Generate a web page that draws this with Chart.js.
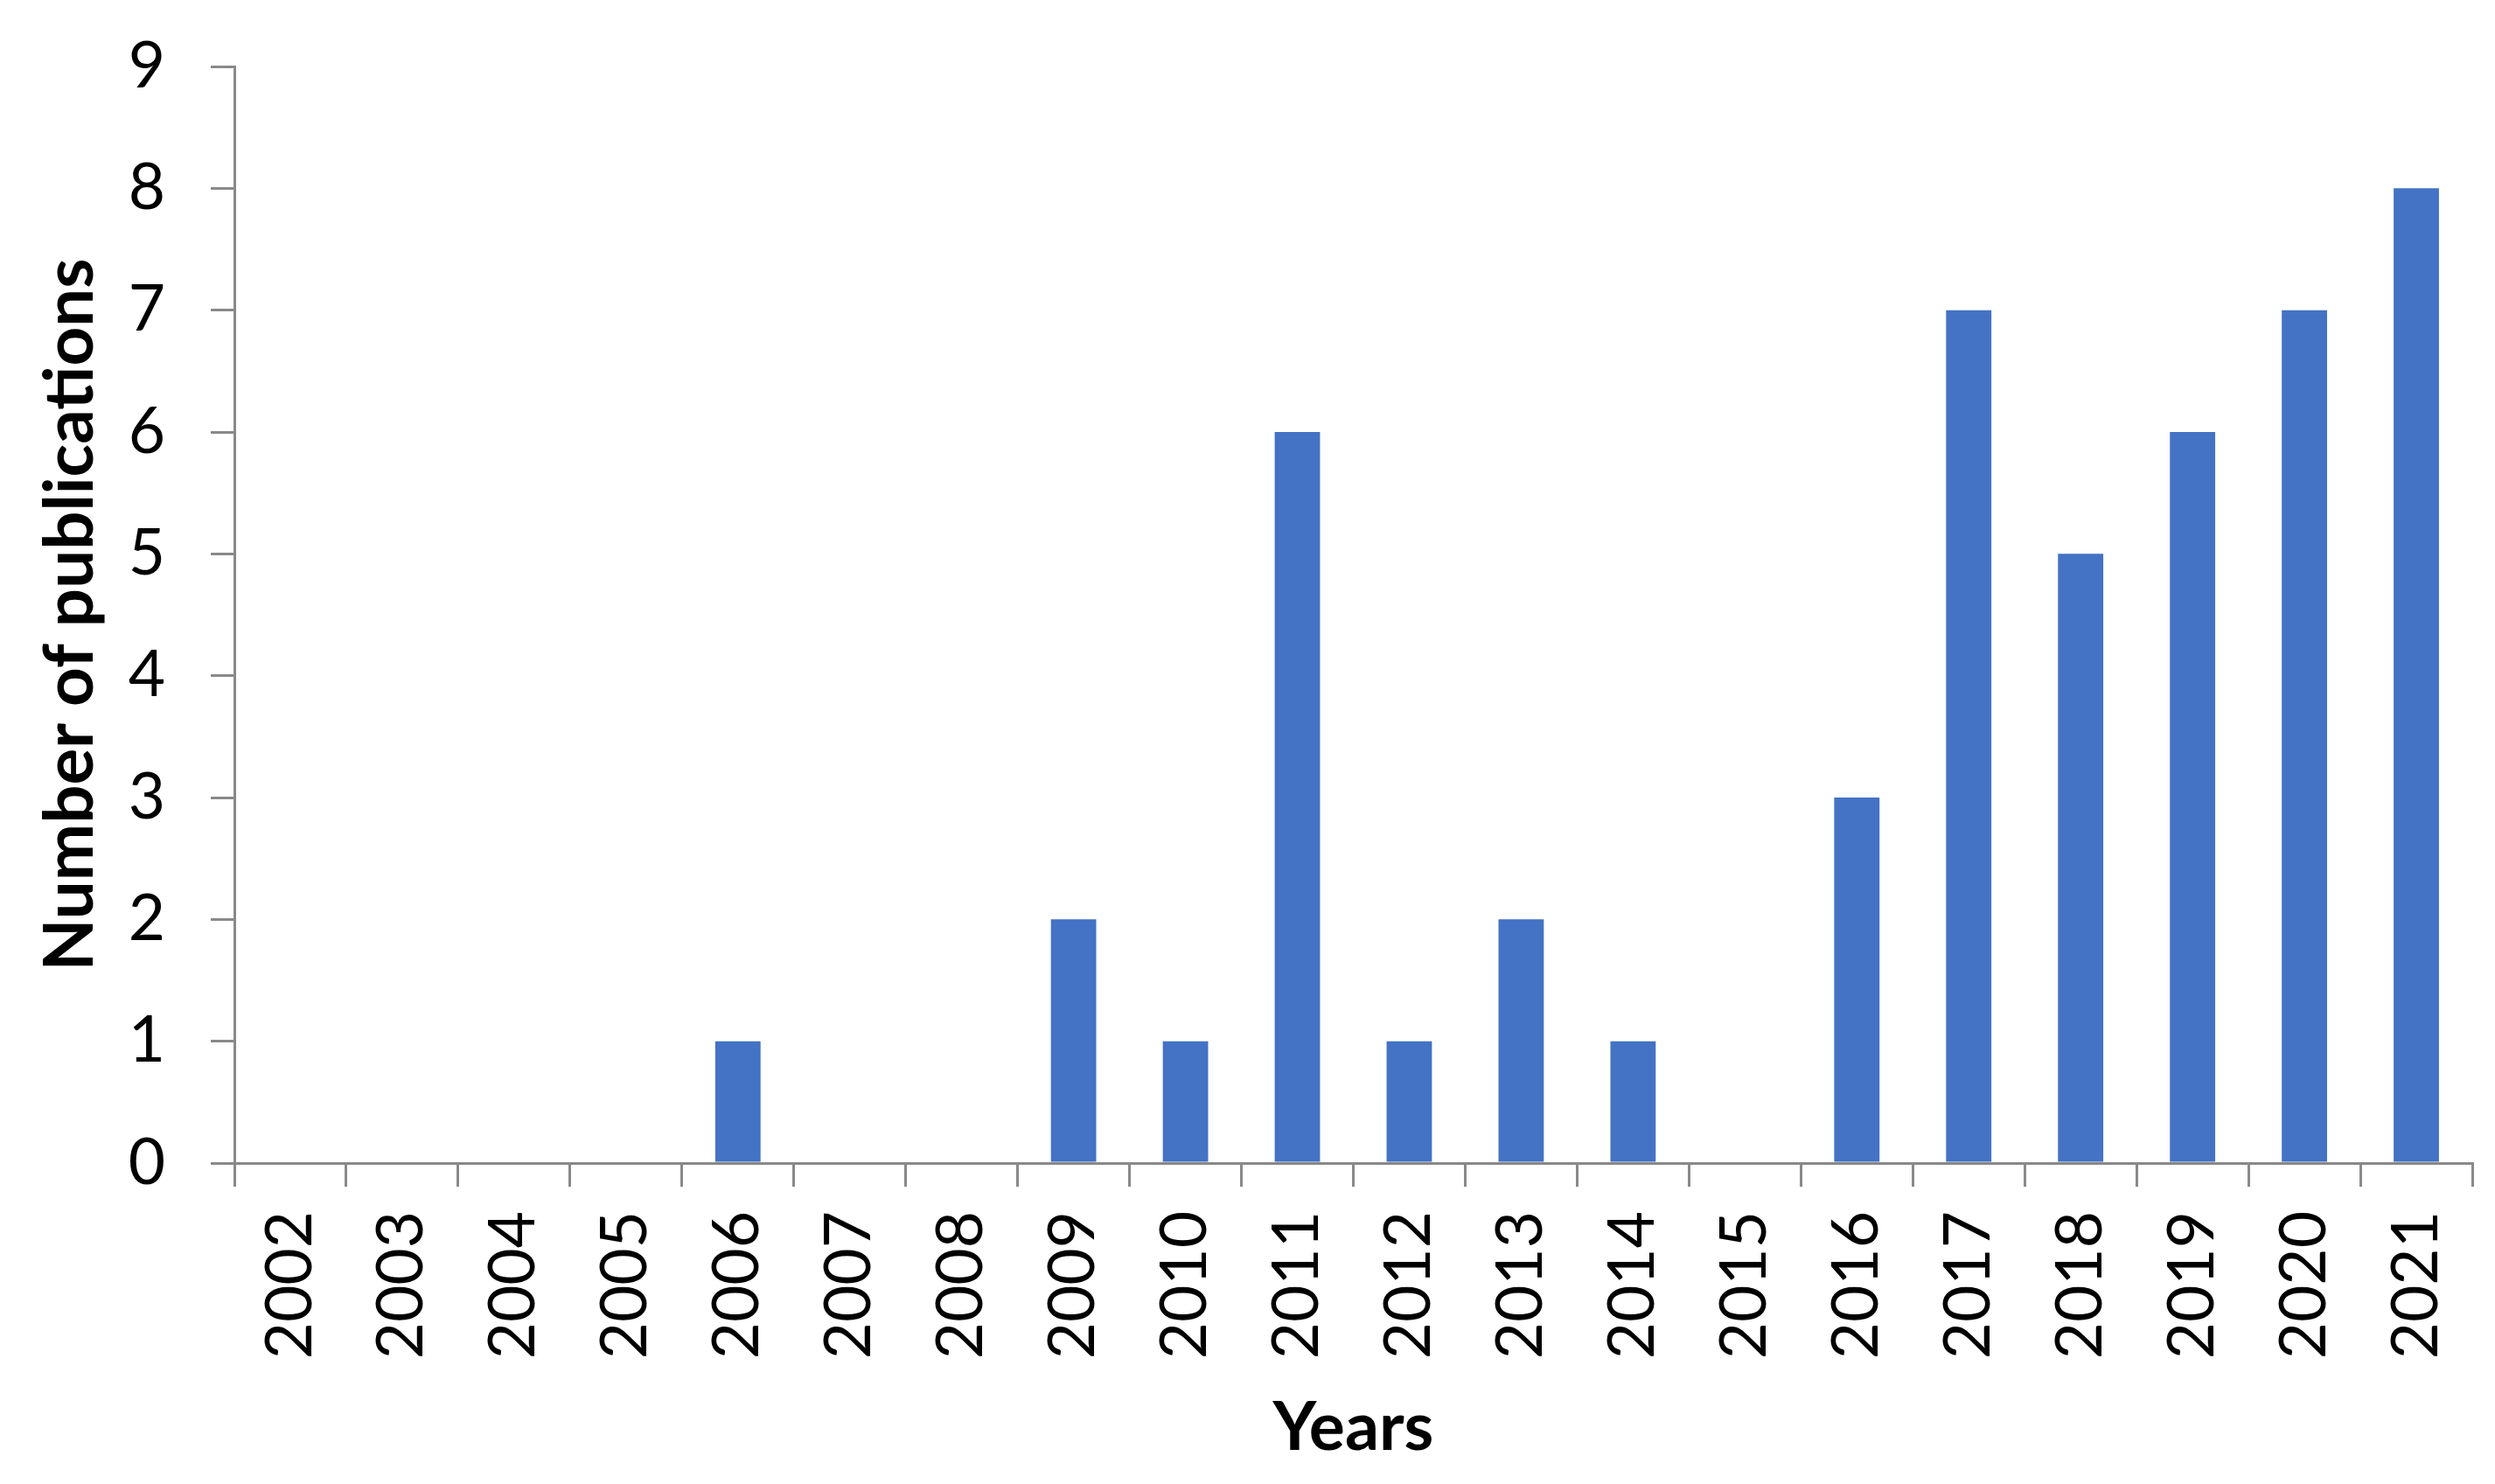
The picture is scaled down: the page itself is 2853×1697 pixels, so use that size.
<!DOCTYPE html>
<html>
<head>
<meta charset="utf-8">
<script src="https://cdn.jsdelivr.net/npm/chart.js@4/dist/chart.umd.min.js"></script>
<style>
html,body{margin:0;padding:0;background:#fff;}
canvas{display:block;}
</style>
</head>
<body>
<canvas id="c" width="2853" height="1697"></canvas>
<script>
const years = ['2002','2003','2004','2005','2006','2007','2008','2009','2010','2011','2012','2013','2014','2015','2016','2017','2018','2019','2020','2021'];
const publications = [0,0,0,0,1,0,0,2,1,6,1,2,1,0,3,7,5,6,7,8];
const yTicks = [0,1,2,3,4,5,6,7,8,9];
const xTitle = 'Years';
const yTitle = 'Number of publications';

const FONT = 'Lato, "Open Sans", sans-serif';
const AXIS = '#898989';

new Chart(document.getElementById('c'), {
  type: 'bar',
  data: {
    labels: years,
    datasets: [{
      data: publications,
      backgroundColor: '#4472C4',
      borderWidth: 0,
      barPercentage: 0.405,
      categoryPercentage: 1.0
    }]
  },
  options: {
    responsive: false,
    animation: false,
    devicePixelRatio: 1,
    layout: { padding: { top: 76, right: 26, left: 0, bottom: 0 } },
    plugins: { legend: { display: false }, tooltip: { enabled: false } },
    scales: {
      x: {
        offset: true,
        grid: { offset: true, drawOnChartArea: false, drawTicks: true, tickLength: 27, color: AXIS, lineWidth: 3 },
        border: { display: true, color: AXIS, width: 3 },
        ticks: { color: '#000', font: { family: FONT, size: 73 }, minRotation: 90, maxRotation: 90, padding: 28, autoSkip: false },
        title: { display: true, text: xTitle, color: '#000', font: { family: FONT, size: 77, weight: 'bold' }, padding: { top: 0, bottom: 18 } },
        afterFit: (s) => { s.height = 1697 - 1330; s.paddingLeft = 0; s.paddingRight = 0; }
      },
      y: {
        min: 0, max: 9,
        afterBuildTicks: (s) => { s.ticks = yTicks.map(v => ({ value: v })); },
        grid: { drawOnChartArea: false, drawTicks: true, tickLength: 27, color: AXIS, lineWidth: 3 },
        border: { display: true, color: AXIS, width: 3 },
        ticks: { color: '#000', font: { family: FONT, size: 73 }, padding: 52 },
        title: { display: true, text: yTitle, color: '#000', font: { family: FONT, size: 78, weight: 'bold' }, padding: { top: 34, bottom: 0 } },
        afterFit: (s) => { s.width = 268; s.paddingTop = 0; s.paddingBottom = 0; }
      }
    }
  }
});
</script>
</body>
</html>
